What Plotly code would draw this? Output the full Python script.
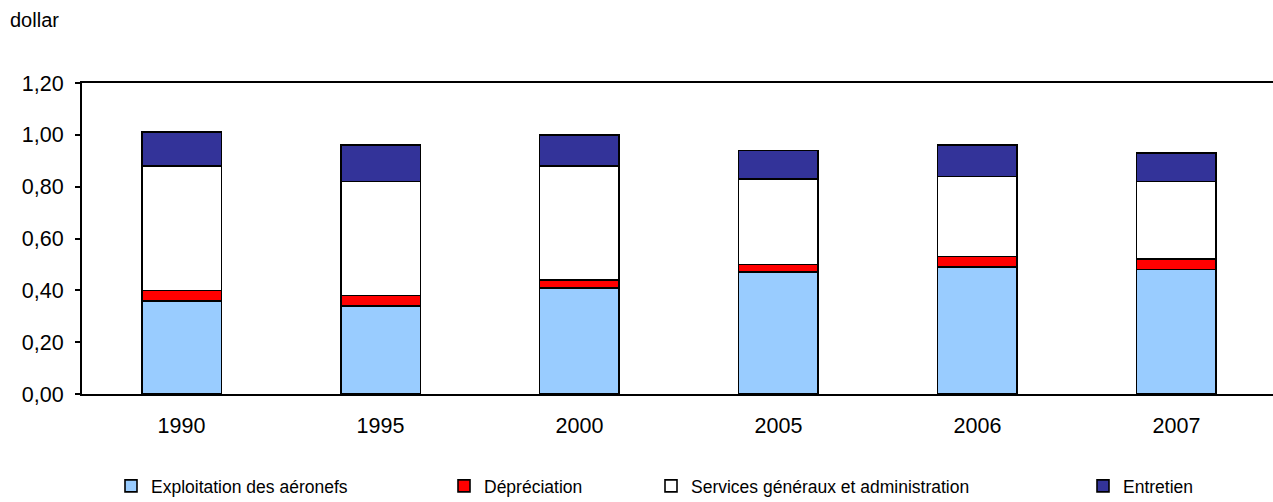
import plotly.graph_objects as go

years = ["1990", "1995", "2000", "2005", "2006", "2007"]
exploitation = [0.36, 0.34, 0.41, 0.47, 0.49, 0.48]
depreciation = [0.04, 0.04, 0.03, 0.03, 0.04, 0.04]
services = [0.48, 0.44, 0.44, 0.33, 0.31, 0.30]
entretien = [0.13, 0.14, 0.12, 0.11, 0.12, 0.11]

series_names = ["Exploitation des aéronefs", "Dépréciation",
                "Services généraux et administration", "Entretien"]
series_values = [exploitation, depreciation, services, entretien]
colors = ["#99CCFF", "#FF0000", "#FFFFFF", "#333399"]
legend_ids = ["legend", "legend2", "legend3", "legend4"]
legend_x_px = [111, 444, 651, 1083]

W, H = 1273, 502
FONT = "Liberation Sans"

fig = go.Figure()
for name, vals, col, lid in zip(series_names, series_values, colors, legend_ids):
    fig.add_trace(go.Bar(
        x=years, y=vals, name=name, legend=lid,
        marker=dict(color=col, line=dict(color="#000000", width=1.6)),
        width=0.4,
    ))

layout_legends = {}
for lid, xp in zip(legend_ids, legend_x_px):
    layout_legends[lid] = dict(
        xref="container", yref="container",
        x=xp / W, y=1 - 486 / H, xanchor="left", yanchor="middle",
        orientation="h", bgcolor="rgba(0,0,0,0)", borderwidth=0,
        font=dict(family=FONT, size=17.5, color="#000000"),
        itemclick=False, itemdoubleclick=False,
    )

fig.update_layout(
    width=W, height=H,
    barmode="stack",
    bargap=0.6,
    separators=", ",
    plot_bgcolor="#FFFFFF", paper_bgcolor="#FFFFFF",
    margin=dict(l=82, r=0, t=83, b=108),
    font=dict(family=FONT, size=21, color="#000000"),
    showlegend=True,
    xaxis=dict(
        range=[-0.5, 5.485],
        showline=True, linecolor="#000000", linewidth=2, mirror=True,
        ticks="", showgrid=False, zeroline=False,
        ticklabelstandoff=11,
        tickfont=dict(family=FONT, size=21.5, color="#000000"),
    ),
    yaxis=dict(
        range=[0, 1.2], dtick=0.2, tick0=0, tickformat=".2f",
        showline=True, linecolor="#000000", linewidth=2, mirror=False,
        ticks="outside", ticklen=5, tickwidth=1.5, tickcolor="#000000",
        showgrid=False, zeroline=False,
        ticklabelstandoff=7,
        tickfont=dict(family=FONT, size=21.5, color="#000000"),
    ),
    annotations=[dict(
        text="dollar", xref="paper", yref="paper",
        x=(8 - 82) / 1191, y=(394 - 20) / 311,
        xanchor="left", yanchor="middle", showarrow=False,
        font=dict(family=FONT, size=20, color="#000000"),
    )],
    **layout_legends,
)

fig.write_html("out.html")
